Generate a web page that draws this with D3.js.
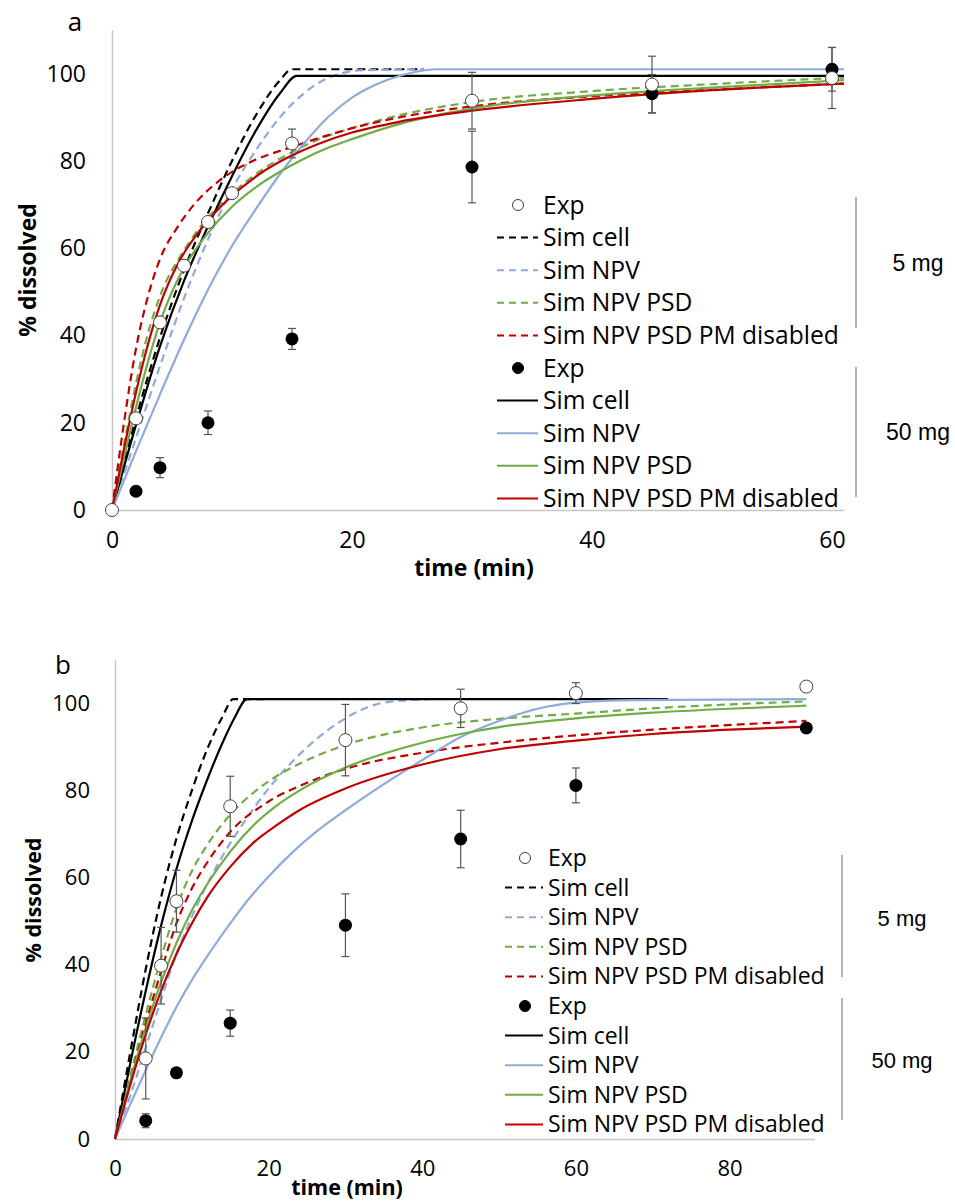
<!DOCTYPE html>
<html>
<head>
<meta charset="utf-8">
<script src="https://cdn.jsdelivr.net/npm/d3@7"></script>
<style>
  body { margin: 0; background: #fff; }
  text { fill: #000; }
</style>
</head>
<body>
<svg id="chart" width="955" height="1203"></svg>
<script>
// ---- panel a : experimental points (5 mg open, 50 mg filled) ----
var aExp5Time = [0, 2, 4, 6, 8, 10, 15, 30, 45, 60];
var aExp5Val  = [0, 21, 43, 56, 66, 72.6, 84, 93.8, 97.5, 99];
var aExp5Err  = [0, 0, 0, 0, 0, 0, 3.3, 6.5, 6.5, 7];
var aExp50Time = [2, 4, 8, 15, 30, 45, 60];
var aExp50Val  = [4.3, 9.7, 20, 39.2, 78.6, 95.4, 101];
var aExp50Err  = [0, 2.3, 2.7, 2.4, 8.2, 4.4, 5];

// panel a : simulations [time, % dissolved]
var aCell5 = [[0,0],[2,21],[4,39.5],[6,55],[8,68],[10,80],[12,90.5],[14,98.5],[15,101],[26,101]];
var aNpv5  = [[0,0],[2,16.5],[4,33],[6,48.5],[8,62],[10,73.5],[12,82.5],[14,90],[16,95.5],[18,99],[21,100.8],[26,101]];
var aPsd5  = [[0,0],[1,15],[2,29],[3,40.5],[4,49],[6,59.5],[8,67],[10,72.5],[12,77],[15,82],[17.3,85],[20,87.5],[24,90.5],[30,93.5],[40,96],[50,97.6],[61,99.1]];
var aPm5   = [[0,0],[1,20],[2,37],[3,49],[4,57.5],[5.5,65],[7,70.5],[8.5,74.5],[10,77.5],[12,80.3],[15,83.2],[17.3,85.3],[20,87.5],[24,90],[30,92.5],[40,94.8],[50,96.3],[61,97.7]];
var aCell50 = [[0,0],[2,19.5],[4,37.5],[6,52.5],[8,65],[10,76.5],[12,87],[14,95.5],[15.4,99.5],[61,99.5]];
var aNpv50  = [[0,0],[2,13.5],[4,26.5],[6,39],[8,50.5],[10,60.5],[12,69],[14,77],[16,84],[18,90],[20,94.5],[22,97.5],[24,99.5],[27,101],[61,101]];
var aPsd50  = [[0,0],[1,12],[2,23.5],[3,34],[4,43],[5,50],[6,55.5],[8,63.5],[10,69.5],[12,74],[14,77.5],[16,80.5],[18,83],[20,85],[24,88.5],[30,92],[40,95],[50,96.8],[61,98.5]];
var aPm50   = [[0,0],[1,14],[2,27],[3,38],[4,47],[5.5,56.5],[7.3,64],[9.8,71.5],[12.3,77],[14.8,81],[17.3,84],[20,86.5],[24,89],[30,91.5],[40,94.2],[50,96.2],[61,97.7]];

// ---- panel b ----
var bExp5Time = [4, 6, 8, 15, 30, 45, 60, 90];
var bExp5Val  = [18.5, 39.8, 54.6, 76.4, 91.6, 98.9, 102.4, 103.9];
var bExp5Err  = [9.3, 8.8, 7.1, 6.9, 8.2, 4.4, 2.4, 0];
var bExp50Time = [4, 8, 15, 30, 45, 60, 90];
var bExp50Val  = [4.2, 15.2, 26.6, 49.1, 68.9, 81.2, 94.4];
var bExp50Err  = [1.6, 1, 3, 7.2, 6.6, 4, 0];

var bCell5 = [[0,0],[2,20],[4,39],[6,55.5],[8,69],[10,80],[12,89.5],[14,97],[15.4,101],[20,101]];
var bNpv5  = [[0,0],[2,10],[4,21],[6,32],[8,42.5],[10,51],[12,58.5],[14,65],[16.7,72.5],[20,80.5],[23,86.5],[26,91.5],[29,95.5],[32,98.5],[35,100.2],[41,101]];
var bPsd5  = [[0,0],[2,14.5],[4,28.5],[6,41.5],[8,53],[10,61.5],[12,67.5],[15,74.5],[18,79.5],[21,83.3],[25,87],[30,90.5],[40,94.5],[50,96.5],[60,97.7],[70,98.9],[90,100.5]];
var bPm5   = [[0,0],[2,13.5],[4,26.5],[6,38.5],[8,49.5],[10,57.5],[12,63.5],[15,70.5],[20,77.5],[25,81.8],[30,85],[40,88.7],[50,91],[60,92.7],[70,94],[90,96]];
var bCell50 = [[0,0],[2,17.5],[4,34],[6,49],[8,62],[10,73],[12,82.5],[14,91],[15.5,96.5],[17.2,101],[72,101]];
var bNpv50  = [[0,0],[2,8],[4,15.8],[6,23.3],[8,30.3],[10,36.5],[12.4,43],[15,49.5],[17.6,55.5],[20,60.3],[23.2,66],[26,70.3],[30,75.5],[35,81.5],[40,87],[45,92.3],[50,96],[55,98.8],[60,100.2],[67.5,100.8],[90,101]];
var bPsd50  = [[0,0],[2,13.5],[4,25.5],[6,36],[8,45],[10,52.5],[12,58.5],[15,66],[18,72],[21,76.5],[24,80],[30,85.3],[40,91],[45,93],[50,94.6],[60,96.6],[70,97.9],[80,98.8],[90,99.5]];
var bPm50   = [[0,0],[2,12.5],[4,24],[6,34],[8,42.5],[10,49.5],[12,55.5],[15,62.5],[18,68],[21,72],[24,75.5],[30,80.5],[40,86],[50,89.5],[60,91.5],[70,93],[80,94],[90,94.7]];

var yTicks = [0, 20, 40, 60, 80, 100];
var aXTicks = [0, 20, 40, 60];
var bXTicks = [0, 20, 40, 60, 80];
var legendLabels = ["Exp", "Sim cell", "Sim NPV", "Sim NPV PSD", "Sim NPV PSD PM disabled",
                    "Exp", "Sim cell", "Sim NPV", "Sim NPV PSD", "Sim NPV PSD PM disabled"];
var doseLabels = ["5 mg", "50 mg"];

var BLACK = "#000000", BLUE = "#8faadc", GREEN = "#70ad47", RED = "#c00000";
var simColors = [BLACK, BLUE, GREEN, RED];
var FONT = "'Open Sans', sans-serif";

var svg = d3.select("#chart");

function drawPanel(p) {
  var x = d3.scaleLinear().domain([0, p.xMax]).range([p.left, p.right]);
  var y = d3.scaleLinear().domain([0, 110]).range([p.bottom, p.top]);
  var g = svg.append("g");

  // axes (Excel-style, no ticks, light grey lines)
  var yAxis = g.append("g")
    .attr("transform", "translate(" + p.left + ",0)")
    .call(d3.axisLeft(y).tickValues(yTicks).tickSize(0).tickSizeOuter(0).tickPadding(p.yPad));
  var xAxis = g.append("g")
    .attr("transform", "translate(0," + p.bottom + ")")
    .call(d3.axisBottom(x).tickValues(p.xTicks).tickSize(0).tickSizeOuter(0).tickPadding(p.xPad));
  [yAxis, xAxis].forEach(function(ax) {
    ax.select(".domain").attr("stroke", "#c6c6c6").attr("stroke-width", 1.5);
    ax.selectAll("text").style("font-family", FONT).style("font-size", p.tickSize + "px").attr("fill", "#000");
  });

  var line = d3.line()
    .x(function(d) { return x(d[0]); })
    .y(function(d) { return y(d[1]); })
    .curve(d3.curveMonotoneX);

  // 5 mg dashed sims, then 50 mg solid sims
  p.sims5.forEach(function(s, i) {
    g.append("path").datum(s).attr("d", line).attr("fill", "none")
      .attr("stroke", simColors[i]).attr("stroke-width", 2.2).attr("stroke-dasharray", "8,5");
  });
  p.sims50.forEach(function(s, i) {
    g.append("path").datum(s).attr("d", line).attr("fill", "none")
      .attr("stroke", simColors[i]).attr("stroke-width", 2.2);
  });

  // error bars
  function errBars(ts, vs, es) {
    ts.forEach(function(t, i) {
      if (!es[i]) return;
      var cx = x(t), y1 = y(vs[i] - es[i]), y2 = y(vs[i] + es[i]);
      var eb = g.append("g").attr("stroke", "#555").attr("stroke-width", 1.2);
      eb.append("line").attr("x1", cx).attr("x2", cx).attr("y1", y1).attr("y2", y2);
      eb.append("line").attr("x1", cx - 4).attr("x2", cx + 4).attr("y1", y1).attr("y2", y1);
      eb.append("line").attr("x1", cx - 4).attr("x2", cx + 4).attr("y1", y2).attr("y2", y2);
    });
  }
  errBars(p.e5t, p.e5v, p.e5e);
  errBars(p.e50t, p.e50v, p.e50e);

  // markers
  g.selectAll(".m50").data(p.e50t).enter().append("circle")
    .attr("cx", function(d) { return x(d); })
    .attr("cy", function(d, i) { return y(p.e50v[i]); })
    .attr("r", 6.5).attr("fill", "#000");
  g.selectAll(".m5").data(p.e5t).enter().append("circle")
    .attr("cx", function(d) { return x(d); })
    .attr("cy", function(d, i) { return y(p.e5v[i]); })
    .attr("r", 6.5).attr("fill", "#fff").attr("stroke", "#404040").attr("stroke-width", 1);

  // panel letter and axis titles
  g.append("text").attr("x", p.letter[0]).attr("y", p.letter[1]).attr("dy", "0.35em")
    .attr("text-anchor", "middle").style("font-family", FONT).style("font-size", "26px").text(p.name);
  g.append("text")
    .attr("transform", "translate(" + p.yTitle[0] + "," + p.yTitle[1] + ") rotate(-90)")
    .attr("text-anchor", "middle").attr("dy", "0.35em")
    .style("font-family", FONT).style("font-size", p.titleSize + "px").style("font-weight", "bold")
    .text("% dissolved");
  g.append("text").attr("x", p.xTitle[0]).attr("y", p.xTitle[1]).attr("dy", "0.35em")
    .attr("text-anchor", "middle")
    .style("font-family", FONT).style("font-size", p.titleSize + "px").style("font-weight", "bold")
    .text("time (min)");

  // legend
  var L = p.legend;
  var lg = g.append("g");
  legendLabels.forEach(function(lab, i) {
    var ry = L.y0 + i * L.dy;
    var k = i % 5;
    if (k === 0) {
      lg.append("circle").attr("cx", L.mx).attr("cy", ry).attr("r", 5.5)
        .attr("fill", i === 0 ? "#fff" : "#000").attr("stroke", i === 0 ? "#404040" : "#000");
    } else {
      lg.append("line").attr("x1", L.x1).attr("x2", L.x2).attr("y1", ry).attr("y2", ry)
        .attr("stroke", simColors[k - 1]).attr("stroke-width", 2)
        .attr("stroke-dasharray", i < 5 ? "7,5" : null);
    }
    lg.append("text").attr("x", L.tx).attr("y", ry).attr("dy", "0.35em")
      .style("font-family", FONT).style("font-size", L.size + "px").text(lab);
  });
  L.brackets.forEach(function(b, i) {
    lg.append("line").attr("x1", L.bx).attr("x2", L.bx).attr("y1", b[0]).attr("y2", b[1])
      .attr("stroke", "#8c8c8c").attr("stroke-width", 1.3);
    lg.append("text").attr("x", L.dx).attr("y", L.doseY[i]).attr("dy", "0.35em")
      .attr("text-anchor", "middle")
      .style("font-family", "'Liberation Sans', Arial, sans-serif")
      .style("font-size", L.doseSize + "px").text(doseLabels[i]);
  });
}

drawPanel({
  name: "a", xMax: 61, left: 112, right: 844, top: 30, bottom: 510,
  xTicks: aXTicks, yPad: 26, xPad: 22, tickSize: 23, titleSize: 23,
  sims5: [aCell5, aNpv5, aPsd5, aPm5], sims50: [aCell50, aNpv50, aPsd50, aPm50],
  e5t: aExp5Time, e5v: aExp5Val, e5e: aExp5Err,
  e50t: aExp50Time, e50v: aExp50Val, e50e: aExp50Err,
  letter: [75, 22], yTitle: [28, 270], xTitle: [474, 568],
  legend: { y0: 205, dy: 32.6, mx: 518, x1: 497, x2: 538, tx: 543, size: 24.6,
            bx: 856, brackets: [[197, 328], [367, 497]], dx: 918, doseY: [263, 432], doseSize: 23 }
});

drawPanel({
  name: "b", xMax: 91, left: 115, right: 814, top: 660, bottom: 1139,
  xTicks: bXTicks, yPad: 25, xPad: 21, tickSize: 22, titleSize: 21.5,
  sims5: [bCell5, bNpv5, bPsd5, bPm5], sims50: [bCell50, bNpv50, bPsd50, bPm50],
  e5t: bExp5Time, e5v: bExp5Val, e5e: bExp5Err,
  e50t: bExp50Time, e50v: bExp50Val, e50e: bExp50Err,
  letter: [63, 665], yTitle: [33, 900], xTitle: [347, 1187],
  legend: { y0: 858, dy: 29.6, mx: 525, x1: 505, x2: 543, tx: 548, size: 23,
            bx: 842, brackets: [[855, 977], [998, 1120]], dx: 902, doseY: [918, 1060], doseSize: 22 }
});
</script>
</body>
</html>
